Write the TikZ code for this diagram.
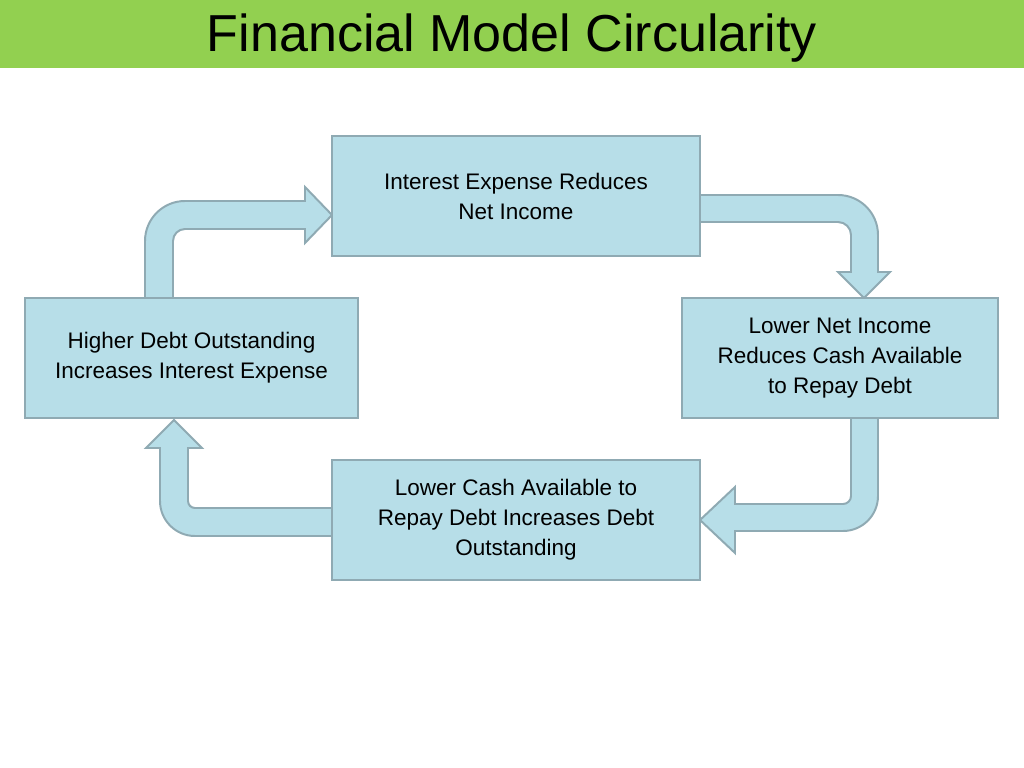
\documentclass[tikz,border=0pt]{standalone}
\usepackage{fontspec}
\setmainfont{Liberation Sans}
\definecolor{boxfill}{HTML}{B7DEE8}
\definecolor{boxline}{HTML}{8FAAB3}
\definecolor{bannergreen}{HTML}{92D050}
\tikzset{
  stepnode/.style = {draw=boxline, line width=1.4pt, fill=boxfill, align=center,
    minimum height=3cm, inner sep=0pt, font=\fontsize{16}{21.3}\selectfont},
  bentarrow/.style = {draw=boxline, line width=1.4pt, fill=boxfill, line join=miter}
}
\begin{document}
\begin{tikzpicture}[x=0.025cm,y=-0.025cm]
\useasboundingbox (0,0) rectangle (1024,768);
\fill[white] (0,0) rectangle (1024,768);
\fill[bannergreen] (0,0) rectangle (1024,68);
\node (title) at (512,38) {\fontsize{37}{40}\selectfont Financial Model Circularity};

% bent arrows between the steps
\draw[bentarrow] (145,300) -- (145,241) arc(180:270:40) -- (305,201) -- (305,187)
  -- (332,215) -- (305,243) -- (305,229) -- (185,229) arc(270:180:12) -- (173,300) -- cycle;
\draw[bentarrow] (698,195) -- (838,195) arc(270:360:40) -- (878,272) -- (890,272)
  -- (864,298) -- (838,272) -- (851,272) -- (851,235) arc(0:-90:13) -- (698,222) -- cycle;
\draw[bentarrow] (851,416) -- (878,416) -- (878,496) arc(0:90:35) -- (735,531) -- (735,553)
  -- (700,520) -- (735,487) -- (735,504) -- (843,504) arc(90:0:8) -- cycle;
\draw[bentarrow] (334,508) -- (334,536) -- (195,536) arc(90:180:35) -- (160,448) -- (146,448)
  -- (174,420) -- (202,448) -- (188,448) -- (188,501) arc(180:90:7) -- cycle;

% steps of the loop
\node[stepnode, minimum width=9.2cm] (interest) at (516,196) {Interest Expense Reduces\\Net Income};
\node[stepnode, minimum width=7.9cm] (netincome) at (840,358) {Lower Net Income\\Reduces Cash Available\\to Repay Debt};
\node[stepnode, minimum width=9.2cm] (cash) at (516,520) {Lower Cash Available to\\Repay Debt Increases Debt\\Outstanding};
\node[stepnode, minimum width=8.325cm] (debt) at (191.5,358) {Higher Debt Outstanding\\Increases Interest Expense};
\end{tikzpicture}
\end{document}
